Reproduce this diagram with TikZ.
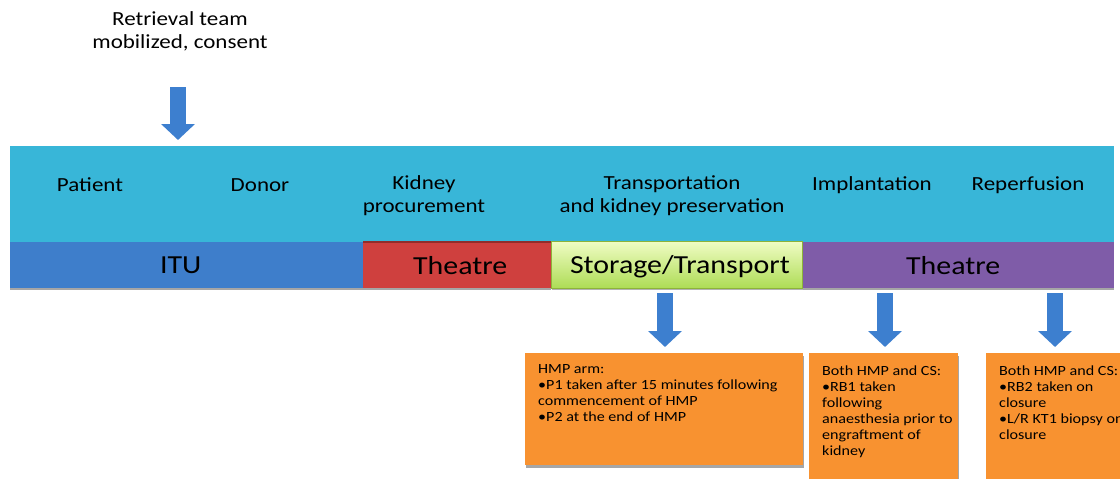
\documentclass[tikz,border=0pt]{standalone}
\usepackage{fontspec}
\setmainfont{Carlito}[FakeStretch=1.15]
\usetikzlibrary{arrows.meta,shadows}
\definecolor{bandcyan}{HTML}{38B6D8}
\definecolor{itublue}{HTML}{3E7ECB}
\definecolor{theared}{HTML}{CF403E}
\definecolor{thepurple}{HTML}{7F5CA8}
\definecolor{boxorange}{HTML}{F89230}
\definecolor{arrowblue}{HTML}{3D7FCF}
\definecolor{greentop}{HTML}{F0FCC4}
\definecolor{greenbot}{HTML}{ADDC55}
\definecolor{greenedge}{HTML}{8DB33A}
\begin{document}
\begin{tikzpicture}[x=1pt,y=-1pt,
  lbl/.style={font=\fontsize{20}{23}\selectfont, align=center, inner sep=0},
  barlbl/.style={font=\fontsize{26}{30}\selectfont, inner sep=0},
  seg/.style={minimum height=46, inner sep=0, anchor=north west,
    drop shadow={shadow xshift=0pt, shadow yshift=-2pt, fill=black!35, opacity=1}},
  obox/.style={fill=boxorange, inner sep=0, anchor=north west,
    drop shadow={shadow xshift=0.5pt, shadow yshift=-2.5pt, fill=black!35, opacity=1}},
  otext/.style={font=\fontsize{14}{16}\selectfont, align=left, inner sep=0, anchor=north west},
  blockarrow/.style={draw=arrowblue, line width=16pt,
    -{Triangle[width=33pt,length=16pt]}, arrowblue}
]
\useasboundingbox (0,0) rectangle (1120,479);

% top annotation
\node[lbl] (retr) at (180,31.5) {Retrieval team\\mobilized, consent};
\coordinate (a1s) at (178,87);
\coordinate (a1e) at (178,140);
\draw[blockarrow] (a1s) -- (a1e);

% cyan band
\node[fill=bandcyan, minimum width=1104, minimum height=96, inner sep=0, anchor=north west] (band) at (10,146) {};
\node[lbl] (patient) at (90,185) {Patient};
\node[lbl] (donor) at (260,185) {Donor};
\node[lbl] (kidney) at (424,196) {Kidney\\procurement};
\node[lbl] (transp) at (672,196) {Transportation\\and kidney preservation};
\node[lbl] (impl) at (872,185) {Implantation};
\node[lbl] (reperf) at (1028,185) {Reperfusion};

% phase bar
\node[seg, fill=itublue, minimum width=353] (itu) at (10,242) {};
\node[barlbl] (itul) at ([xshift=-6pt]itu.center) {ITU};
\node[seg, fill=theared, minimum width=188] (theatre1) at (363,242) {};
\draw[theared!70!black, line width=1.5pt] (theatre1.north west) -- (theatre1.north east);
\node[barlbl] (th1l) at ([xshift=3pt]theatre1.center) {Theatre};
\node[seg, fill=thepurple, minimum width=312] (theatre2) at (802,242) {};
\node[barlbl] (th2l) at ([xshift=-5pt]theatre2.center) {Theatre};
\node[minimum width=251, minimum height=47, inner sep=0, anchor=north west,
  top color=greentop, bottom color=greenbot, draw=greenedge, line width=0.8pt,
  drop shadow={shadow xshift=1pt, shadow yshift=-2pt, fill=black!30, opacity=1}] (storage) at (551,241) {};
\node[barlbl] (stl) at ([xshift=3pt, yshift=-2pt]storage.center) {Storage/Transport};

% down arrows
\coordinate (a2s) at (665,293);
\coordinate (a2e) at (665,347);
\draw[blockarrow] (a2s) -- (a2e);
\coordinate (a3s) at (885,293);
\coordinate (a3e) at (885,347);
\draw[blockarrow] (a3s) -- (a3e);
\coordinate (a4s) at (1055,293);
\coordinate (a4e) at (1055,347);
\draw[blockarrow] (a4s) -- (a4e);

% orange boxes
\node[obox, minimum width=278, minimum height=112] (box1) at (525,353) {};
\node[otext] (t1) at (538,364) {HMP arm:\\•P1 taken after 15 minutes following\\commencement of HMP\\•P2 at the end of HMP};
\node[obox, minimum width=149, minimum height=130] (box2) at (809,353) {};
\node[otext] (t2) at (822,366) {Both HMP and CS:\\•RB1 taken\\following\\anaesthesia prior to\\engraftment of\\kidney};
\node[obox, minimum width=140, minimum height=130] (box3) at (986,353) {};
\node[otext] (t3) at (999,366) {Both HMP and CS:\\•RB2 taken on\\closure\\•L/R KT1 biopsy on\\closure};
\end{tikzpicture}
\end{document}
